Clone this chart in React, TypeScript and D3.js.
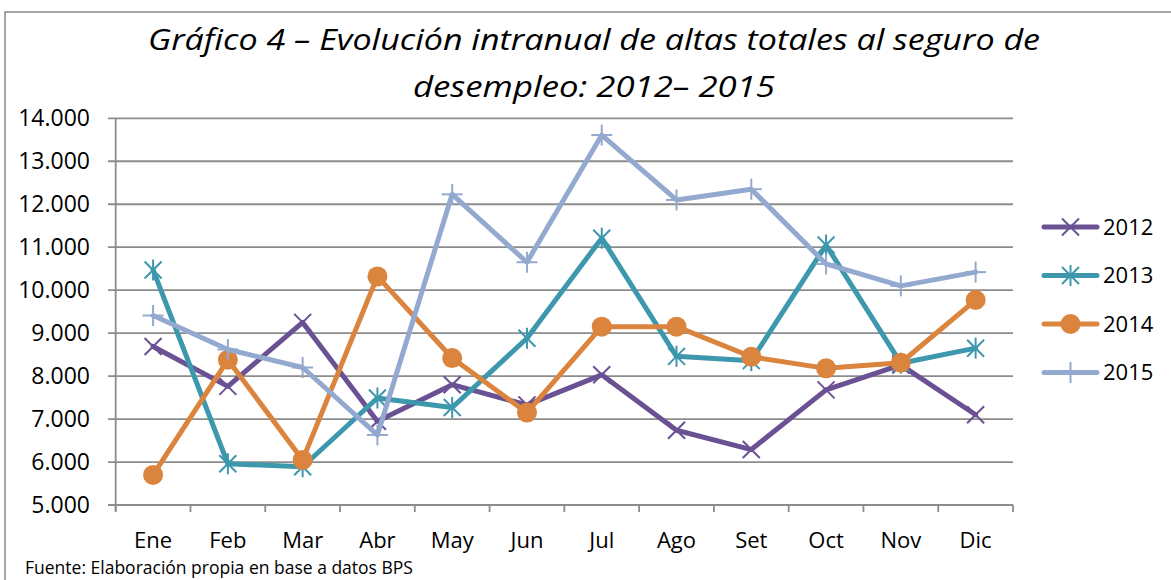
import * as d3 from "d3";

const months = ["Ene", "Feb", "Mar", "Abr", "May", "Jun", "Jul", "Ago", "Set", "Oct", "Nov", "Dic"];
const years = ["2012", "2013", "2014", "2015"];
const values2012 = [8690, 7760, 9250, 6950, 7800, 7330, 8030, 6740, 6290, 7680, 8260, 7100];
const values2013 = [10470, 5960, 5890, 7490, 7270, 8880, 11210, 8460, 8360, 11050, 8300, 8650];
const values2014 = [5700, 8380, 6050, 10320, 8420, 7150, 9150, 9150, 8450, 8180, 8310, 9770];
const values2015 = [9410, 8620, 8200, 6630, 12230, 10650, 13610, 12100, 12350, 10610, 10100, 10420];
const yTicks = [5000, 6000, 7000, 8000, 9000, 10000, 11000, 12000, 13000, 14000];
const colors = ["#6a5193", "#3d97ad", "#db843d", "#93a9cf"];
const markers = ["x", "star", "circle", "plus"];

const W = 1171;
const H = 580;
const left = 115.7;
const right = 1013;
const top = 118.3;
const bottom = 505;
const font = "'Open Sans', 'Noto Sans', sans-serif";

const fmt = d3.formatLocale({ decimal: ",", thousands: ".", grouping: [3], currency: ["$", ""] }).format(",d");

function Marker({ type, cx, cy, color }: { type: string; cx: number; cy: number; color: string }) {
  const s = 8.5;
  if (type === "circle") return <circle cx={cx} cy={cy} r={10} fill={color} />;
  const lines: number[][] = [];
  if (type === "x" || type === "star") {
    lines.push([-s, -s, s, s], [-s, s, s, -s]);
  }
  if (type === "star" || type === "plus") {
    lines.push([0, -s - 2, 0, s + 2]);
  }
  if (type === "plus") lines.push([-s - 2, 0, s + 2, 0]);
  return (
    <g stroke={color} strokeWidth={2}>
      {lines.map((l, i) => (
        <line key={i} x1={cx + l[0]} y1={cy + l[1]} x2={cx + l[2]} y2={cy + l[3]} />
      ))}
    </g>
  );
}

export default function App() {
  const series = [values2012, values2013, values2014, values2015];
  const x = d3.scaleBand().domain(months).range([left, right]).padding(0);
  const y = d3.scaleLinear().domain([5000, 14000]).range([bottom, top]);
  const cx = (m: string) => (x(m) ?? 0) + x.bandwidth() / 2;
  const line = d3.line<number>().x((_, i) => cx(months[i])).y((d) => y(d));
  const boundaries = months.map((m) => x(m) ?? 0).concat([right]);

  return (
    <svg width={W} height={H} style={{ position: "absolute", left: 0, top: 0, background: "#fff" }}>
      <rect x={5} y={12} width={1300} height={700} fill="#fff" stroke="#8a8a8a" strokeWidth={1.5} />
      <g fontFamily={font} fontStyle="italic" fontSize={30} textAnchor="middle" fill="#000">
        <text x={594} y={50} textLength={892} lengthAdjust="spacingAndGlyphs">
          Gráfico 4 – Evolución intranual de altas totales al seguro de
        </text>
        <text x={594} y={97} textLength={362} lengthAdjust="spacingAndGlyphs">
          desempleo: 2012– 2015
        </text>
      </g>
      {yTicks.map((t) => (
        <g key={t}>
          <line x1={108} x2={right} y1={y(t)} y2={y(t)} stroke="#8c8c8c" strokeWidth={1.8} />
          <text x={90} y={y(t)} dy="0.35em" textAnchor="end" fontFamily={font} fontSize={23} fill="#000">
            {fmt(t)}
          </text>
        </g>
      ))}
      <line x1={left} x2={left} y1={top} y2={bottom + 6} stroke="#8c8c8c" strokeWidth={1.8} />
      {boundaries.map((b, i) => (
        <line key={i} x1={b} x2={b} y1={bottom} y2={bottom + 7} stroke="#8c8c8c" strokeWidth={1.8} />
      ))}
      {months.map((m) => (
        <text key={m} x={cx(m)} y={548} textAnchor="middle" fontFamily={font} fontSize={22} fill="#000">
          {m}
        </text>
      ))}
      {series.map((s, k) => (
        <g key={k}>
          <path d={line(s) ?? ""} fill="none" stroke={colors[k]} strokeWidth={5} strokeLinejoin="round" strokeLinecap="round" />
          {s.map((v, i) => (
            <Marker key={i} type={markers[k]} cx={cx(months[i])} cy={y(v)} color={colors[k]} />
          ))}
        </g>
      ))}
      {years.map((yr, k) => {
        const ly = 227 + k * 48.5;
        return (
          <g key={yr}>
            <line x1={1044} x2={1097} y1={ly} y2={ly} stroke={colors[k]} strokeWidth={5} strokeLinecap="round" />
            <Marker type={markers[k]} cx={1070.5} cy={ly} color={colors[k]} />
            <text x={1103} y={ly} dy="0.35em" fontFamily={font} fontSize={22} fill="#000">
              {yr}
            </text>
          </g>
        );
      })}
      <text x={25} y={574} fontFamily={font} fontSize={17.5} fill="#000">
        Fuente: Elaboración propia en base a datos BPS
      </text>
    </svg>
  );
}
